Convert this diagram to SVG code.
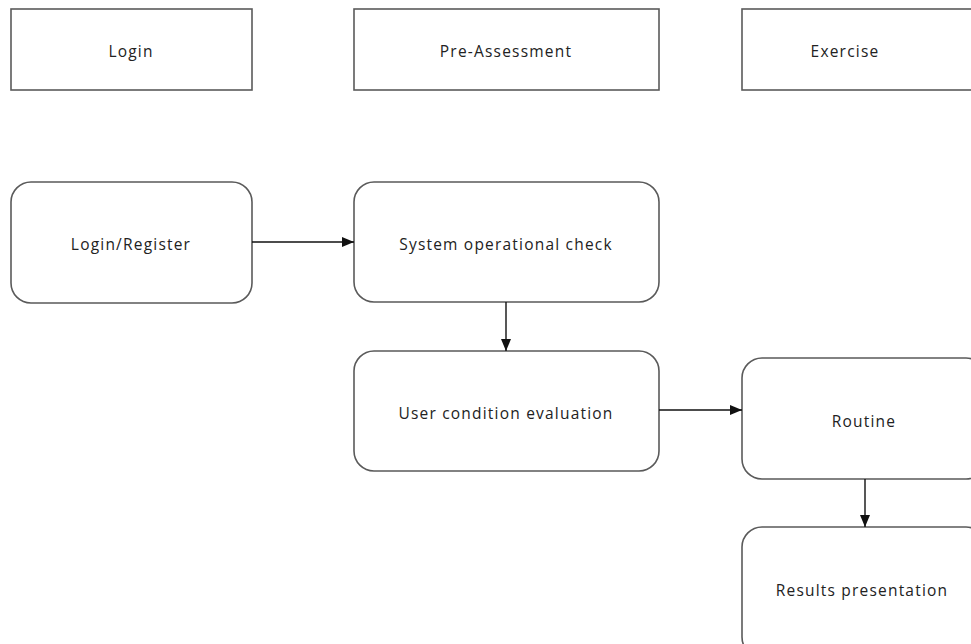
<svg xmlns="http://www.w3.org/2000/svg" width="971" height="644" viewBox="0 0 971 644">
  <style>
    .lane { fill: #ffffff; stroke: #5a5a5a; stroke-width: 1.6; }
    .step { fill: #ffffff; stroke: #5a5a5a; stroke-width: 1.6; }
    .label { font-family: "Open Sans", "Noto Sans", "Liberation Sans", sans-serif; font-size: 15.5px; letter-spacing: 1.2px; fill: #222222; text-anchor: middle; dominant-baseline: central; }
    .flow { fill: none; stroke: #111111; stroke-width: 1.4; }
  </style>
  <defs>
    <marker id="arrow" viewBox="0 0 12 10" refX="12" refY="5" markerWidth="12" markerHeight="10" markerUnits="userSpaceOnUse" orient="auto">
      <path d="M0,0 L12,5 L0,10 Z" fill="#111111"/>
    </marker>
  </defs>
  <rect width="971" height="644" fill="#ffffff"/>

  <!-- lane headers -->
  <g id="lane-login">
    <rect class="lane" x="11" y="9" width="241" height="81"/>
    <text class="label" x="131" y="51">Login</text>
  </g>
  <g id="lane-pre-assessment">
    <rect class="lane" x="354" y="9" width="305" height="81"/>
    <text class="label" x="506" y="51">Pre-Assessment</text>
  </g>
  <g id="lane-exercise">
    <rect class="lane" x="742" y="9" width="244" height="81"/>
    <text class="label" x="845" y="51">Exercise</text>
  </g>

  <!-- process steps -->
  <g id="login-register">
    <rect class="step" x="11" y="182" width="241" height="121" rx="20" ry="20"/>
    <text class="label" x="131" y="243.5">Login/Register</text>
  </g>
  <g id="system-check">
    <rect class="step" x="354" y="182" width="305" height="120" rx="20" ry="20"/>
    <text class="label" x="506" y="243.5">System operational check</text>
  </g>
  <g id="condition-evaluation">
    <rect class="step" x="354" y="351" width="305" height="120" rx="20" ry="20"/>
    <text class="label" x="506" y="412.5">User condition evaluation</text>
  </g>
  <g id="routine">
    <rect class="step" x="742" y="358" width="244" height="121" rx="20" ry="20"/>
    <text class="label" x="864" y="420.5">Routine</text>
  </g>
  <g id="results">
    <rect class="step" x="742" y="527" width="244" height="130" rx="20" ry="20"/>
    <text class="label" x="862" y="589.5">Results presentation</text>
  </g>

  <!-- connectors -->
  <g id="connectors">
    <line class="flow" x1="252" y1="242" x2="354" y2="242" marker-end="url(#arrow)"/>
    <line class="flow" x1="506" y1="302" x2="506" y2="351" marker-end="url(#arrow)"/>
    <line class="flow" x1="659" y1="410" x2="742" y2="410" marker-end="url(#arrow)"/>
    <line class="flow" x1="865" y1="479" x2="865" y2="527" marker-end="url(#arrow)"/>
  </g>
</svg>
